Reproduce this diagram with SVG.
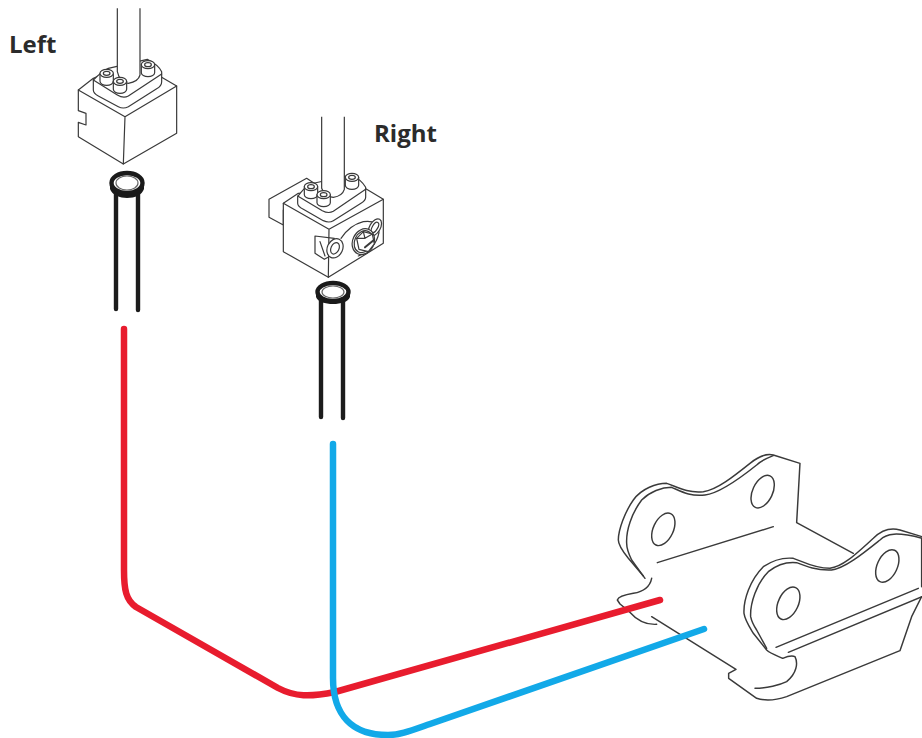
<svg xmlns="http://www.w3.org/2000/svg" width="922" height="738" viewBox="0 0 922 738">
<defs>
<style>
text{font-family:"Open Sans","Liberation Sans",sans-serif;font-weight:700;font-size:24px;fill:#2b2b2b}
.l{fill:none;stroke:#3a3a3a;stroke-width:3.6;stroke-linejoin:round;stroke-linecap:round}
.w{fill:#fff;stroke:#3a3a3a;stroke-width:3.6;stroke-linejoin:round}
.t{fill:none;stroke:#1c1c1c;stroke-width:4.400;stroke-linecap:round}
.r{fill:#fff;stroke:#1a1a1a;stroke-width:4.400}
.d{fill:none;stroke:#3a3a3a;stroke-width:4.400;stroke-linejoin:round;stroke-linecap:round}
</style>
<g id="screw">
<path class="w" d="M-20,-12V12A20,12 0 0 0 20,12V-12Z"/>
<ellipse class="w" cx="0" cy="-12" rx="20" ry="12"/>
<ellipse class="l" cx="0" cy="-12" rx="10" ry="6"/>
</g>
</defs>
<g id="left-label"><text x="9" y="53">Left</text></g>
<g id="right-label"><text x="374" y="142">Right</text></g>
<g id="left-valve" transform="translate(60,0) scale(.3333)">
<path class="w" d="M100,235L55,270V332L78,340V375L55,367V410L190,492L350,400V258L305,232L240,205L172,205Z"/>
<path class="l" d="M55,270L195,350L350,258M195,350L190,492"/>
<path class="w" d="M100,240Q125,215 145,205L262,178Q295,195 305,215V245Q305,258 290,266L205,320Q190,328 175,320L115,288Q100,280 100,270Z"/>
<path class="l" d="M100,240L172,285Q190,296 205,288L305,222"/>
<path class="w" d="M172,25V215Q180,250 205,250Q235,245 240,225V25"/>
<use href="#screw" x="140" y="232"/><use href="#screw" x="180" y="256"/><use href="#screw" x="264" y="206"/>
</g>
<g id="left-seal">
<path class="t" d="M116,190V309M138,190V310"/>
<path d="M110,183V189C112,195 120,198 127,198C135,198 142,195 144,189V183Z" fill="#1a1a1a"/>
<ellipse class="r" cx="127" cy="183" rx="15.500" ry="10"/>
<ellipse cx="127" cy="183" rx="11" ry="7" fill="#fff" stroke="#666" stroke-width="1.200"/>
</g>
<g id="right-valve" transform="translate(255,110) scale(.3333)">
<path class="w" d="M42,268L155,205L200,235L85,300V345L42,322Z"/>
<path class="w" d="M85,280L130,250L330,235L385,268V400L220,502L85,425Z"/>
<path class="l" d="M85,280L222,358L385,268M222,358L220,502"/>
<path class="w" d="M128,260Q150,230 165,222L290,195Q320,210 332,232V262Q332,272 318,280L235,332Q222,340 205,332L145,298Q128,290 128,280Z"/>
<path class="l" d="M128,258L202,302Q220,312 235,304L332,238"/>
<path class="w" d="M200,20V235Q210,262 235,262Q262,258 268,238V20"/>
<use href="#screw" x="168" y="242"/><use href="#screw" x="206" y="266"/><use href="#screw" x="291" y="214"/>
<path class="l" d="M180,378L238,385M180,378V430L208,448L222,440M195,395L210,438"/>
<path class="l" d="M258,385Q285,345 325,335Q372,328 372,368Q362,418 310,438"/>
<ellipse class="w" cx="240" cy="415" rx="23" ry="30" transform="rotate(25 240 415)"/>
<ellipse class="l" cx="240" cy="415" rx="12" ry="18" transform="rotate(25 240 415)"/>
<ellipse class="w" cx="360" cy="352" rx="16" ry="28" transform="rotate(30 360 352)"/>
<ellipse class="l" cx="360" cy="352" rx="8" ry="17" transform="rotate(30 360 352)"/>
<ellipse class="w" cx="325" cy="395" rx="32" ry="40" transform="rotate(25 325 395)"/>
<ellipse class="l" cx="325" cy="395" rx="26" ry="34" transform="rotate(25 325 395)"/>
<path class="w" d="M305,385L325,365L352,372L358,402L340,425L312,418Z"/>
<path class="l" d="M330,412L354,392" style="stroke-width:6"/>
<path class="l" d="M325,365L330,385L305,385M330,385L352,372"/>
</g>
<g id="right-seal">
<path class="t" d="M321,298V417M343,298V418"/>
<path d="M316,292V297C318,302 325,304 333,304C341,304 348,302 350,297V292Z" fill="#1a1a1a"/>
<ellipse class="r" cx="333" cy="292" rx="15.500" ry="9"/>
<ellipse cx="333" cy="292" rx="11" ry="6" fill="#fff" stroke="#666" stroke-width="1.200"/>
</g>
<g id="bracket" transform="translate(600,440) scale(.3333)">
<g class="d">
<path d="M130,408L85,355C65,330 55,315 55,300C55,270 75,215 100,180C125,145 170,130 200,130C230,140 260,160 310,155C350,150 400,110 450,70C475,50 500,40 520,45L600,70L590,248L760,340"/>
<path d="M135,415L95,360C85,340 80,325 80,310C78,270 95,220 125,180C150,155 185,142 215,142C245,155 270,170 315,165C360,160 420,115 470,75C485,60 500,55 520,47"/>
<path d="M155,415C150,440 130,455 100,460C70,465 55,470 52,480L60,492L88,515C110,540 135,555 170,553"/>
<path d="M155,530L408,688L386,700V715L470,775C500,785 530,780 560,770L900,632L935,530L965,470"/>
<path d="M465,745C500,745 540,735 560,725C590,700 595,670 585,650C575,645 560,650 548,655"/>
<path d="M548,655C525,645 510,640 500,630L460,580C445,555 435,540 432,520C430,480 450,420 490,380C520,360 550,352 580,355C610,365 640,385 690,385C730,380 770,340 820,295C845,270 870,262 900,270L966,290"/>
<path d="M500,625L470,570C460,555 455,545 452,530C450,490 470,430 505,395C530,375 560,365 590,368C620,380 650,392 695,390C735,385 790,340 840,300C860,280 890,275 966,295"/>
<path d="M172,368L520,260M528,622L955,445M565,637L966,470M965,295V440"/>
<ellipse cx="190" cy="268" rx="30" ry="52" transform="rotate(25 190 268)"/>
<ellipse cx="488" cy="155" rx="30" ry="52" transform="rotate(25 488 155)"/>
<ellipse cx="565" cy="490" rx="30" ry="52" transform="rotate(25 565 490)"/>
<ellipse cx="862" cy="378" rx="30" ry="52" transform="rotate(25 862 378)"/>
</g>
</g>
<g id="connectors" fill="none" stroke-linecap="round" stroke-linejoin="round" stroke-width="6.500">
<path stroke="#e81c2e" d="M124,329V570C124,590 126,600 136,607L278,688C295,697 310,697 335,692L660,600"/>
<path stroke="#12a9e8" d="M333,444V678C333,715 352,735 388,735C400,735 410,731 430,724L704,629"/>
</g>
</svg>
